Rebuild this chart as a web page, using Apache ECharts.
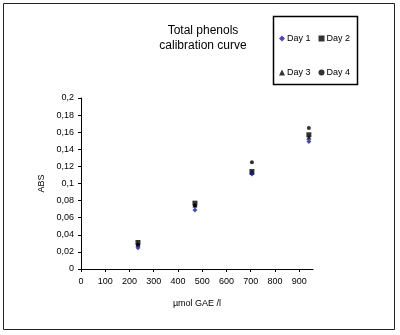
<!DOCTYPE html>
<html><head><meta charset="utf-8">
<script src="https://cdn.jsdelivr.net/npm/echarts@6/dist/echarts.min.js"></script>
<style>html,body{margin:0;padding:0;background:#fff}#c{width:400px;height:335px}</style>
</head><body><div id="c"></div>
<script>
const xValues = [235, 470, 705, 940];
const day1 = [0.025, 0.069, 0.111, 0.149];
const day2 = [0.031, 0.077, 0.114, 0.157];
const day3 = [0.029, 0.075, 0.113, 0.154];
const day4 = [0.028, 0.074, 0.125, 0.165];
const xTicks = [0, 100, 200, 300, 400, 500, 600, 700, 800, 900];
const yTicks = [0, 0.02, 0.04, 0.06, 0.08, 0.1, 0.12, 0.14, 0.16, 0.18, 0.2];
const seriesNames = ['Day 1', 'Day 2', 'Day 3', 'Day 4'];

const pair = arr => xValues.map((x, i) => [x, arr[i]]);
const font = 'Liberation Sans, Arial, sans-serif';
const styles = [
  {symbol: 'diamond', size: 5, color: '#1c1ca8'},
  {symbol: 'rect', size: 5, color: '#000'},
  {symbol: 'triangle', size: 5, color: '#000'},
  {symbol: 'circle', size: 4, color: '#000'}
];
const allData = [day1, day2, day3, day4];

const chart = echarts.init(document.getElementById('c'));
chart.setOption({
  animation: false,
  backgroundColor: '#fff',
  textStyle: {fontFamily: font},
  title: {
    text: 'Total phenols\ncalibration curve',
    left: 198, top: 18, textAlign: 'center',
    textStyle: {fontSize: 12, fontWeight: 'normal', color: '#000', lineHeight: 15, fontFamily: font}
  },
  graphic: [
    {type: 'rect', shape: {x: 3.5, y: 3.5, width: 391, height: 326}, style: {fill: 'none', stroke: '#222', lineWidth: 1}, silent: true},
    {type: 'rect', shape: {x: 273.5, y: 16.5, width: 84, height: 68}, style: {fill: '#fff', stroke: '#000', lineWidth: 1.5}, silent: true, z: 0}
  ],
  legend: [
    {data: seriesNames.slice(0, 2), left: 274, top: 29, itemGap: 8, itemWidth: 6, itemHeight: 6,
     textStyle: {fontSize: 9, color: '#000', padding: [0, 0, 0, -3]}, z: 5},
    {data: seriesNames.slice(2, 4), left: 274, top: 63, itemGap: 8, itemWidth: 6, itemHeight: 6,
     textStyle: {fontSize: 9, color: '#000', padding: [0, 0, 0, -3]}, z: 5}
  ],
  grid: {left: 81, top: 98, width: 232, height: 171, containLabel: false},
  xAxis: {
    type: 'value', min: 0, max: 957,
    name: 'µmol GAE /l', nameLocation: 'middle', nameGap: 30,
    nameTextStyle: {fontSize: 9, color: '#000'},
    axisLine: {show: true, onZero: false, lineStyle: {color: '#000', width: 1}},
    axisTick: {show: true, length: 3, customValues: xTicks, lineStyle: {color: '#000'}},
    axisLabel: {fontSize: 9, color: '#000', margin: 8, customValues: xTicks},
    splitLine: {show: false}
  },
  yAxis: {
    type: 'value', min: 0, max: 0.2, interval: 0.02,
    name: 'ABS', nameLocation: 'middle', nameGap: 32, nameRotate: 90,
    nameTextStyle: {fontSize: 9, color: '#000'},
    axisLine: {show: true, lineStyle: {color: '#000', width: 1}},
    axisTick: {show: true, length: 3, lineStyle: {color: '#000'}},
    axisLabel: {fontSize: 9, color: '#000', margin: 7,
      formatter: v => String(Math.round(v * 100) / 100).replace('.', ',')},
    splitLine: {show: false}
  },
  series: seriesNames.map((n, i) => ({
    name: n, type: 'scatter', data: pair(allData[i]),
    symbol: styles[i].symbol, symbolSize: styles[i].size,
    itemStyle: {color: styles[i].color}, z: 10 - i
  }))
});
</script></body></html>
